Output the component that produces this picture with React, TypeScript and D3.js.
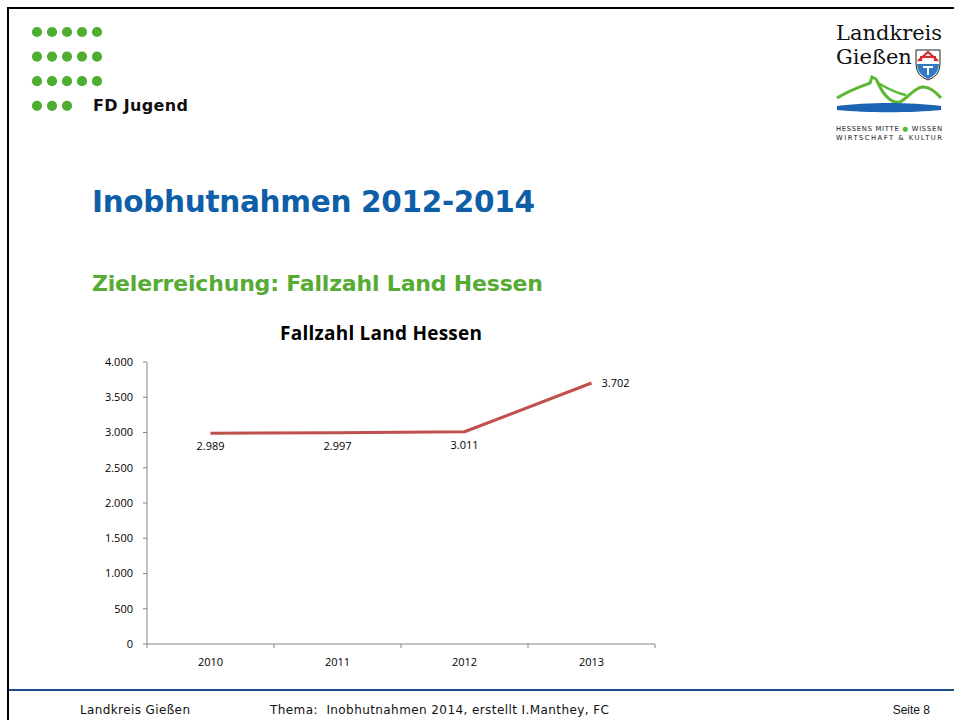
import React from "react";
import * as d3 from "d3";

const years = ["2010", "2011", "2012", "2013"];
const fallzahl = [2989, 2997, 3011, 3702];
const yTicks = [0, 500, 1000, 1500, 2000, 2500, 3000, 3500, 4000];

const W = 954;
const H = 720;
const margin = { top: 362, right: 299, bottom: 76, left: 147 };

const fmt = (v: number) => d3.format(",")(v).replace(/,/g, ".");

export default function App() {
  const x = d3
    .scaleBand()
    .domain(years)
    .range([margin.left, W - margin.right]);

  const y = d3
    .scaleLinear()
    .domain([0, 4000])
    .range([H - margin.bottom, margin.top]);

  const line = d3
    .line<number>()
    .x((d, i) => (x(years[i]) as number) + x.bandwidth() / 2)
    .y((d) => y(d));

  const pts = fallzahl.map((v, i) => ({
    x: (x(years[i]) as number) + x.bandwidth() / 2,
    y: y(v),
    v,
  }));

  const sans = "'DejaVu Sans', 'Noto Sans', sans-serif";
  const chartFont = "'Open Sans', 'Liberation Sans', sans-serif";

  const dotRows = [5, 5, 5, 3];

  return (
    <div style={{ position: "absolute", top: 0, left: 0 }}>
      <svg width={W} height={H} style={{ display: "block", background: "#fff" }}>
        {/* Folienrahmen */}
        <line x1={8} x2={W} y1={8} y2={8} stroke="#000" strokeWidth={2} />
        <line x1={8} x2={8} y1={7} y2={H} stroke="#000" strokeWidth={2} />
        <line x1={9} x2={W} y1={690} y2={690} stroke="#1f4d8a" strokeWidth={2} />

        {/* grüne Punkte */}
        {dotRows.map((n, r) =>
          d3.range(n).map((c) => (
            <circle key={`${r}-${c}`} cx={37 + c * 15} cy={32 + r * 24.6} r={5.1} fill="#4fae32" />
          ))
        )}
        <text x={93} y={111} fontFamily={sans} fontSize={16} fontWeight="bold" fill="#111" textLength={95}>
          FD Jugend
        </text>

        {/* Logo */}
        <g>
          <text x={836} y={40} fontFamily="'DejaVu Serif', 'Liberation Serif', serif" fontSize={21} fill="#111">
            Landkreis
          </text>
          <text x={836} y={64} fontFamily="'DejaVu Serif', 'Liberation Serif', serif" fontSize={21} fill="#111">
            Gießen
          </text>
          <path d="M916,50 h24 v14 q0,12 -12,16 q-12,-4 -12,-16 z" fill="#fff" stroke="#222" strokeWidth={1} />
          <path d="M917,64 h22 q0,10 -11,15 q-11,-5 -11,-15 z" fill="#2f7ac2" />
          <path d="M918,61 l10,-9 l10,9 M921,61 v-4 M935,61 v-4 M920,57 h16" fill="none" stroke="#d52b2b" strokeWidth={2.2} />
          <path d="M923,67 h10 M928,67 v8" stroke="#fff" strokeWidth={2} />
          <path
            d="M837,98 C850,90 862,86 870,83 L872,77 L876,79 L878,83 C884,96 892,104 900,102 C908,98 914,88 922,87 C930,86 936,92 941,98"
            fill="none"
            stroke="#5cb833"
            strokeWidth={3}
          />
          <path d="M878,83 C890,90 900,94 906,95" fill="none" stroke="#5cb833" strokeWidth={2.5} />
          <path d="M837,106 C868,102 910,102 941,106 L941,110 C910,113 868,113 837,110 z" fill="#1d63b3" />
          <text x={836} y={131} fontFamily={sans} fontSize={6.8} fill="#222" textLength={106}>
            HESSENS MITTE <tspan fill="#5cb833">●</tspan> WISSEN
          </text>
          <text x={836} y={140} fontFamily={sans} fontSize={6.8} fill="#222" textLength={106}>
            WIRTSCHAFT &amp; KULTUR
          </text>
        </g>

        {/* Überschriften */}
        <text x={92} y={212} fontFamily={sans} fontSize={29.5} fontWeight="bold" fill="#0e5ea8" textLength={443}>
          Inobhutnahmen 2012-2014
        </text>
        <text x={92} y={291} fontFamily={sans} fontSize={22} fontWeight="bold" fill="#55ab33" textLength={451}>
          Zielerreichung: Fallzahl Land Hessen
        </text>

        {/* Diagramm */}
        <text x={381} y={340} textAnchor="middle" fontFamily={chartFont} fontSize={19} fontWeight="bold" fill="#000" textLength={202}>
          Fallzahl Land Hessen
        </text>

        <line x1={margin.left} x2={margin.left} y1={y(4000)} y2={y(0)} stroke="#868686" strokeWidth={1} />
        {yTicks.map((t) => (
          <g key={t}>
            <line x1={margin.left - 4} x2={margin.left} y1={y(t)} y2={y(t)} stroke="#868686" />
            <text
              x={margin.left - 14}
              y={y(t)}
              dy="0.35em"
              textAnchor="end"
              fontFamily={chartFont}
              fontSize={11}
              fill="#000"
            >
              {fmt(t)}
            </text>
          </g>
        ))}

        <line x1={margin.left} x2={W - margin.right} y1={y(0)} y2={y(0)} stroke="#868686" strokeWidth={1} />
        {[...years.map((yr) => x(yr) as number), W - margin.right].map((tx, i) => (
          <line key={i} x1={tx} x2={tx} y1={y(0)} y2={y(0) + 4} stroke="#868686" />
        ))}
        {years.map((yr) => (
          <text
            key={yr}
            x={(x(yr) as number) + x.bandwidth() / 2}
            y={666}
            textAnchor="middle"
            fontFamily={chartFont}
            fontSize={11}
            fill="#000"
          >
            {yr}
          </text>
        ))}

        <path d={line(fallzahl) || ""} fill="none" stroke="#c0504d" strokeWidth={3} strokeLinejoin="round" />

        {pts.map((p, i) =>
          i === pts.length - 1 ? (
            <text key={i} x={p.x + 10} y={p.y} dy="0.35em" fontFamily={chartFont} fontSize={11} fill="#000">
              {fmt(p.v)}
            </text>
          ) : (
            <text key={i} x={p.x} y={p.y + 17} textAnchor="middle" fontFamily={chartFont} fontSize={11} fill="#000">
              {fmt(p.v)}
            </text>
          )
        )}

        {/* Fußzeile */}
        <text x={80} y={714} fontFamily={sans} fontSize={12} fill="#111" textLength={110}>
          Landkreis Gießen
        </text>
        <text x={270} y={714} fontFamily={sans} fontSize={12} fill="#111" textLength={339} style={{ whiteSpace: "pre" }}>
          Thema:  Inobhutnahmen 2014, erstellt I.Manthey, FC
        </text>
        <text x={930} y={714} textAnchor="end" fontFamily="'Liberation Sans', Arial, sans-serif" fontSize={12} fill="#111">
          Seite 8
        </text>
      </svg>
    </div>
  );
}
